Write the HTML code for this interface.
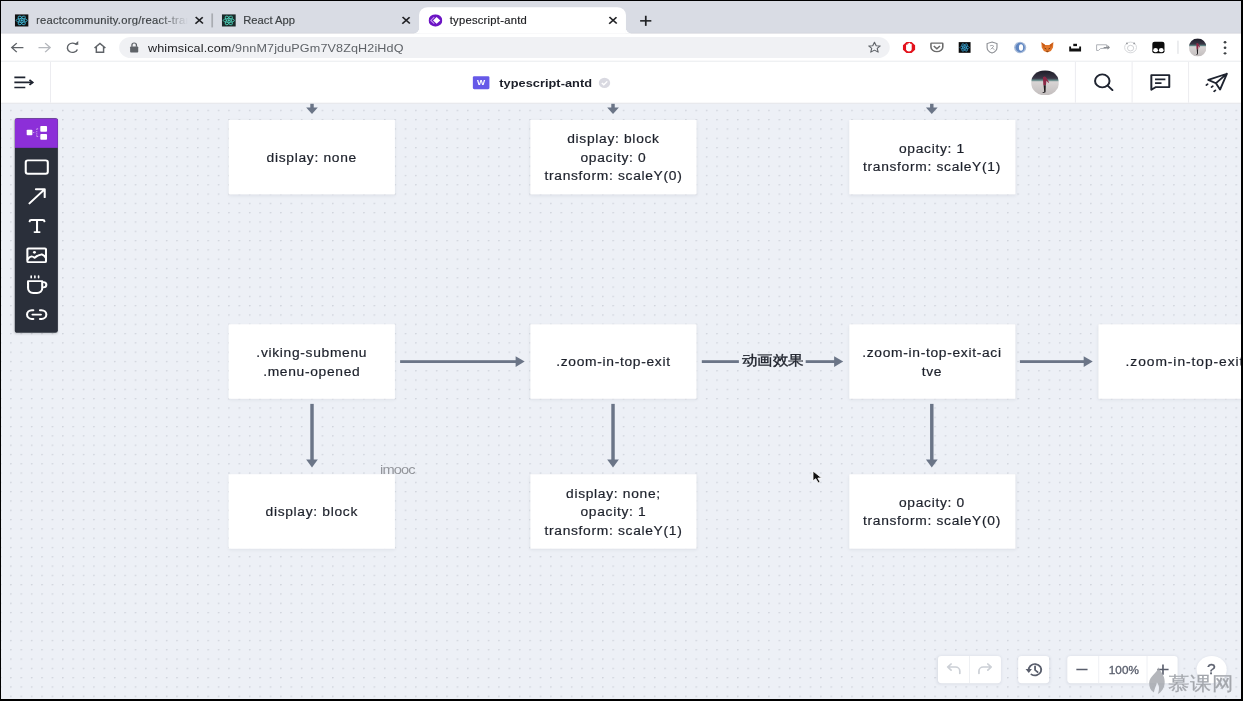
<!DOCTYPE html>
<html><head><meta charset="utf-8">
<style>
html,body{margin:0;padding:0;width:1243px;height:701px;overflow:hidden;background:#000;position:relative;}
#fr{position:absolute;left:1px;top:1px;width:1440px;height:900px;transform-origin:0 0;transform:scale(0.862,0.777);overflow:hidden;font-family:"Liberation Sans",sans-serif;background:#edf0f6;}
.abs{position:absolute;}
#tabs{z-index:5;left:0;top:0;width:1440px;height:42px;background:#d9dce4;box-shadow:inset 0 -1px 0 #d3d4da;}
#tool{z-index:5;left:0;top:42px;width:1440px;height:35px;background:#fff;border-bottom:1px solid #dadce0;}
#hdr{z-index:5;left:0;top:78px;width:1440px;height:53px;background:#fff;border-bottom:1px solid #dcdde3;}
#canvas{left:0;top:132px;width:1440px;height:768px;background-color:#edf0f6;
 background-image:radial-gradient(circle at 1px 1px,#c8ccd5 0.5px,rgba(200,204,213,0) 1.1px);
 background-size:12.05px 11.982px;background-position:10.57px 8.0px;}
.box{position:absolute;background:#fff;width:193px;height:96px;display:flex;align-items:center;justify-content:center;text-align:center;
 font-size:16px;line-height:24px;letter-spacing:0.8px;padding-top:2px;box-sizing:border-box;color:#1d212b;-webkit-text-stroke:0.25px #1d212b;box-shadow:0 2px 4px rgba(30,40,70,0.07),0 0 1px rgba(30,40,70,0.06);}
.lbl{font-size:18px;line-height:24px;color:#1d212b;-webkit-text-stroke:0.45px #1d212b;white-space:nowrap;}
.x{width:9px;height:9px;}
.x:before,.x:after{content:"";position:absolute;left:3.8px;top:-1.3px;width:1.5px;height:11.6px;background:#202124;transform:rotate(45deg);}
.x:after{transform:rotate(-45deg);}
.plus{width:13px;height:13px;}
.plus:before,.plus:after{content:"";position:absolute;left:5.6px;top:0;width:1.9px;height:13px;background:#202124;}
.plus:after{transform:rotate(90deg);}
.avatar{border-radius:50%;background:radial-gradient(ellipse at 50% 80%,#e8e8ea 0%,#cfd0d3 45%,#8d9299 70%,#2c3238 100%);overflow:hidden;}
.avatar:after{content:"";position:absolute;left:44%;top:22%;width:12%;height:62%;background:#7a1f35;border-radius:40% 40% 10% 10%;}
.ctl{background:#fff;border-radius:4px;box-shadow:0 1px 4px rgba(30,40,70,0.10);}
.tab-title{position:absolute;top:16.5px;font-size:13px;letter-spacing:0.3px;-webkit-text-stroke:0.2px currentColor;color:#3c4043;white-space:nowrap;}
</style></head>
<body>
<div id="fr">
  <div id="canvas" class="abs"></div>
  <div id="tabs" class="abs">
    <!-- tab 1 -->
    <div class="abs fav-react" style="left:16px;top:16.5px;"><svg width="16" height="16" viewBox="0 0 16 16"><rect width="16" height="16" fill="#111"/><g fill="none" stroke="#3fb8d6" stroke-width="1"><ellipse cx="8" cy="8" rx="6.5" ry="2.5"/><ellipse cx="8" cy="8" rx="6.5" ry="2.5" transform="rotate(60 8 8)"/><ellipse cx="8" cy="8" rx="6.5" ry="2.5" transform="rotate(-60 8 8)"/></g><circle cx="8" cy="8" r="1.4" fill="#3fb8d6"/></svg></div>
    <div class="tab-title" style="left:40.5px;width:176px;overflow:hidden;-webkit-mask-image:linear-gradient(90deg,#000 80%,transparent 100%);">reactcommunity.org/react-transition-group</div>
    <div class="abs x" style="left:225px;top:20.5px;"></div>
    <div class="abs" style="left:244.3px;top:16px;width:1.3px;height:18px;background:#a9acb2;"></div>
    <!-- tab 2 -->
    <div class="abs" style="left:256px;top:16.5px;"><svg width="16.5" height="16" viewBox="0 0 16 16"><rect width="16" height="16" fill="#1a2a2a"/><g fill="none" stroke="#4fd1b9" stroke-width="1"><ellipse cx="8" cy="8" rx="6.5" ry="2.5"/><ellipse cx="8" cy="8" rx="6.5" ry="2.5" transform="rotate(60 8 8)"/><ellipse cx="8" cy="8" rx="6.5" ry="2.5" transform="rotate(-60 8 8)"/></g><circle cx="8" cy="8" r="1.4" fill="#4fd1b9"/></svg></div>
    <div class="tab-title" style="left:281px;letter-spacing:0.02px;">React App</div>
    <div class="abs x" style="left:465px;top:20.5px;"></div>
    <!-- active tab -->
    <div class="abs" style="left:484.5px;top:8px;width:240.5px;height:34px;background:#fff;border-radius:10px 10px 0 0;"></div>
    <div class="abs" style="left:476.5px;top:34px;width:8px;height:8px;background:radial-gradient(circle at 0 0,transparent 8px,#fff 8.5px);"></div>
    <div class="abs" style="left:725px;top:34px;width:8px;height:8px;background:radial-gradient(circle at 100% 0,transparent 8px,#fff 8.5px);"></div>
    <div class="abs" style="left:496px;top:17px;"><svg width="16" height="16" viewBox="0 0 16 16"><circle cx="8" cy="8" r="8" fill="#6c14c4"/><path d="M9.3 3.6 L13.6 8 L9.3 12.4 L5.2 8 Z" fill="#fff"/><path d="M6.6 3.8 L2.6 8 L6.6 12.2" fill="none" stroke="#c79af0" stroke-width="1.2"/></svg></div>
    <div class="tab-title" style="left:520.5px;color:#202124;">typescript-antd</div>
    <div class="abs x" style="left:705px;top:20.5px;"></div>
    <div class="abs plus" style="left:741.5px;top:18.5px;"></div>
  </div>
  <div id="tool" class="abs">
    <svg class="abs" style="left:0;top:0" width="1440" height="36" viewBox="0 42 1440 36">
      <g fill="none" stroke="#5f6368" stroke-width="1.7">
        <path d="M12.5 60 H26 M18.3 54.2 L12.5 60 L18.3 65.8"/>
      </g>
      <g fill="none" stroke="#b5b8bd" stroke-width="1.7"><path d="M43.5 60 H57 M51.2 54.2 L57 60 L51.2 65.8"/></g>
      <g fill="none" stroke="#5f6368" stroke-width="1.7">
        <path d="M87.8 56.6 A6 6 0 1 0 88.6 62.3"/>
        <path d="M108.5 60.5 L114.8 54.6 L121.1 60.5 M110.6 58.8 V66 H119 V58.8"/>
      </g>
      <path d="M85.6 55.2 L89.6 51.6 L89.6 56.6 Z" fill="#5f6368"/>
      <rect x="137" y="46.3" width="894" height="27.2" rx="13.6" fill="#f0f1f4"/>
      <rect x="149.8" y="58.6" width="9.4" height="7.6" rx="1" fill="#5f6368"/>
      <path d="M151.9 58.8 V56.6 A2.6 2.6 0 0 1 157.1 56.6 V58.8" fill="none" stroke="#5f6368" stroke-width="1.5"/>
      <path d="M1013.3 53 L1015.3 57.5 L1020 57.9 L1016.5 61 L1017.6 65.8 L1013.3 63.3 L1009 65.8 L1010.1 61 L1006.6 57.9 L1011.3 57.5 Z" fill="none" stroke="#5f6368" stroke-width="1.3" stroke-linejoin="round"/>
    </svg>
    <div class="abs" style="left:170.5px;top:11px;font-size:14.6px;color:#202124;white-space:nowrap;letter-spacing:0.15px">whimsical.com<span style="color:#5f6368">/9nnM7jduPGm7V8ZqH2iHdQ</span></div>
    <!-- extensions -->
    <svg class="abs" style="left:0;top:0" width="1440" height="36" viewBox="0 42 1440 36">
      <g transform="translate(1053.4 59.8) scale(0.82)"><path d="M-3.6 -8.6 H3.6 L8.6 -3.6 V3.6 L3.6 8.6 H-3.6 L-8.6 3.6 V-3.6 Z" fill="#e3111b"/><path d="M-4.2 1 V-3.8 A1 1 0 0 1 -2.2 -3.8 V-0.5 V-5.8 A1 1 0 0 1 -0.2 -5.8 V-0.5 V-6.3 A1 1 0 0 1 1.8 -6.3 V-0.5 V-5 A1 1 0 0 1 3.8 -5 V2.2 Q3.8 6.3 -0.2 6.3 Q-3 6.3 -4.2 3.5 Z" fill="#fff"/></g>
      <g transform="translate(1085.7 59.8) scale(0.86)"><path d="M-7.2 -6.5 H7.2 Q8 -6.5 8 -5.7 V-0.8 A8 7 0 0 1 -8 -0.8 V-5.7 Q-8 -6.5 -7.2 -6.5 Z" fill="none" stroke="#6b6b6b" stroke-width="2.1"/><path d="M-4.2 -2.2 L0 1.8 L4.2 -2.2" fill="none" stroke="#6b6b6b" stroke-width="2.1"/></g>
      <g transform="translate(1117.9 59.8) scale(0.86)"><rect x="-8" y="-8" width="16" height="16" fill="#0b0b0b"/><g fill="none" stroke="#3aa7d8" stroke-width="1"><ellipse rx="6.3" ry="2.4"/><ellipse rx="6.3" ry="2.4" transform="rotate(60)"/><ellipse rx="6.3" ry="2.4" transform="rotate(-60)"/></g><circle r="1.3" fill="#3aa7d8"/></g>
      <g transform="translate(1149.7 59.8) scale(0.82)"><path d="M0 -8.5 L7 -6 V0 Q7 6 0 8.8 Q-7 6 -7 0 V-6 Z" fill="#fff" stroke="#8c8f94" stroke-width="1.6"/><path d="M-3 -2.5 Q0.5 -4.5 2.5 -2 L-2 3 M0 0.5 L3.5 3.5" fill="none" stroke="#8c8f94" stroke-width="1.1"/></g>
      <g transform="translate(1182.3 59.8) scale(0.86)"><ellipse rx="8.2" ry="8.6" fill="#a9bcd9"/><ellipse rx="6.2" ry="7" fill="#5f86c2"/><ellipse cx="1.2" cy="0" rx="2.8" ry="4.8" fill="#fff"/></g>
      <g transform="translate(1213.9 59.8) scale(0.82)"><path d="M-8.5 -8 L-3 -4 H3 L8.5 -8 L8 0 L5 5.5 L0 8 L-5 5.5 L-8 0 Z" fill="#e2762a"/><path d="M-8.5 -8 L-3 -4 L-5 1 Z M8.5 -8 L3 -4 L5 1 Z" fill="#c65a17"/><path d="M-4 1 L-1.5 2.5 M4 1 L1.5 2.5 M-1.5 6 H1.5" stroke="#5a2f0e" stroke-width="1.2" fill="none"/></g>
      <g transform="translate(1246.1 59.8) scale(0.86)"><rect x="-2.5" y="-5.5" width="5" height="3.5" fill="#111"/><path d="M-8 -1.5 H-5.5 V1.5 H5.5 V-1.5 H8 V6 H-8 Z" fill="#111"/></g>
      <g transform="translate(1278.3 59.8) scale(0.86)"><path d="M-8.5 -4 H5 V1.5 H-3 L-6 4.5 H-8.5 Z" fill="none" stroke="#a9acb1" stroke-width="1.3"/><path d="M1 0 H8.5 M6 -2.6 L8.5 0 L6 2.6" fill="none" stroke="#8b8e93" stroke-width="1.6"/></g>
      <g transform="translate(1310.4 59.8) scale(0.86)"><circle r="8" fill="none" stroke="#d2d4d8" stroke-width="1.3"/><circle cy="1" r="4.2" fill="none" stroke="#c6c8cc" stroke-width="1.2"/><circle cx="-4.9" cy="-6" r="1.3" fill="#9a9ca0"/><circle cx="4.9" cy="-6" r="1.3" fill="#9a9ca0"/></g>
      <g transform="translate(1342.7 59.8) scale(0.86)"><rect x="-8.2" y="-8.5" width="16.4" height="17" rx="3" fill="#0c0c0c"/><circle cx="-3.8" cy="4" r="3.2" fill="#fff"/><circle cx="3.8" cy="4" r="3.2" fill="#fff"/></g>
      <rect x="1364.8" y="51" width="1.2" height="17" fill="#dadce0"/>
      <g fill="#3c4043"><circle cx="1420" cy="53" r="1.6"/><circle cx="1420" cy="60.2" r="1.6"/><circle cx="1420" cy="67.4" r="1.6"/></g>
    </svg>
    <svg class="abs" style="left:1377.5px;top:6px;" width="20.5" height="23.5" preserveAspectRatio="none" viewBox="0 0 32 32"><defs><clipPath id="ca1"><circle cx="16" cy="16" r="16"/></clipPath><linearGradient id="ga1" x1="0" y1="0" x2="0" y2="1"><stop offset="0" stop-color="#1c1b26"/><stop offset="0.32" stop-color="#3a3746"/><stop offset="0.4" stop-color="#5e8584"/><stop offset="0.46" stop-color="#d8d4d4"/><stop offset="1" stop-color="#c2bdbd"/></linearGradient></defs><g clip-path="url(#ca1)"><rect width="32" height="32" fill="url(#ga1)"/><path d="M13.5 9 Q15.5 7 17.5 9.5 L20.5 15.5 L19.5 16 L17.5 13 L17 19 L14 19 Z" fill="#8d2846"/><path d="M14.3 19 L15 27.5 L12.5 28.5 L14 29 L16.5 28 L16.8 19 Z" fill="#1c1a1c"/></g></svg>
  </div>
  <div id="hdr" class="abs">
    <svg class="abs" style="left:0;top:0" width="1440" height="54" viewBox="0 78 1440 54">
      <g stroke="#1f2430" stroke-width="2.1" fill="none">
        <path d="M15.5 98.3 H28.2 M15.5 104.8 H36.5 M15.5 111.3 H28.2"/>
        <path d="M33 101.6 L36.8 104.8 L33 108"/>
      </g>
      <rect x="56.8" y="78" width="1.2" height="53" fill="#ececf0"/>
      <rect x="547.4" y="97" width="19.2" height="16.5" rx="1.5" fill="#6659e8"/>
      <text x="556.9" y="107.9" text-anchor="middle" font-family="Liberation Sans" font-weight="bold" font-size="10" fill="#fff">W</text>
      <circle cx="700.1" cy="105.5" r="6.6" fill="#d9d9e1"/>
      <path d="M697 105.6 L699.3 107.8 L703.3 103.4" fill="none" stroke="#fff" stroke-width="1.6"/>
      <rect x="1245.8" y="78" width="1.2" height="53" fill="#ececf0"/>
      <rect x="1311.6" y="78" width="1.2" height="53" fill="#ececf0"/>
      <rect x="1377.1" y="78" width="1.2" height="53" fill="#ececf0"/>
      <g stroke="#1f2430" stroke-width="2.3" fill="none" stroke-linecap="round">
        <circle cx="1277.6" cy="102.8" r="8.4"/>
        <path d="M1283.8 108.8 L1289.4 114.6"/>
      </g>
      <g stroke="#1f2430" stroke-width="2.3" fill="none" stroke-linejoin="round">
        <path d="M1334.5 95.5 H1355.3 V110.8 H1339.8 L1334.5 114.3 Z"/>
        <path d="M1338.8 101 H1350.8 M1338.8 105.7 H1346.3"/>
      </g>
      <g stroke="#1f2430" stroke-width="2.2" fill="none" stroke-linejoin="round" stroke-linecap="round">
        <path d="M1422.2 93.6 L1400.5 101.5 L1409.5 105.8 L1414.2 114 Z M1409.5 105.8 L1422.2 93.6"/>
        <path d="M1398.3 108.2 L1399.8 107 M1404.3 110.8 L1405.8 109.6 M1407.3 116.2 L1408.8 115" stroke-width="2.1"/>
      </g>
    </svg>
    <div class="abs" style="left:578px;top:20.3px;font-size:14.8px;font-weight:bold;color:#1c1f29;letter-spacing:0.05px;white-space:nowrap;">typescript-antd</div>
    <svg class="abs" style="left:1194.8px;top:10.5px;" width="32.5" height="32.5" viewBox="0 0 32 32"><defs><clipPath id="ca2"><circle cx="16" cy="16" r="16"/></clipPath><linearGradient id="ga2" x1="0" y1="0" x2="0" y2="1"><stop offset="0" stop-color="#1c1b26"/><stop offset="0.32" stop-color="#3a3746"/><stop offset="0.4" stop-color="#5e8584"/><stop offset="0.46" stop-color="#d8d4d4"/><stop offset="1" stop-color="#c2bdbd"/></linearGradient></defs><g clip-path="url(#ca2)"><rect width="32" height="32" fill="url(#ga2)"/><path d="M13.5 9 Q15.5 7 17.5 9.5 L20.5 15.5 L19.5 16 L17.5 13 L17 19 L14 19 Z" fill="#8d2846"/><path d="M14.3 19 L15 27.5 L12.5 28.5 L14 29 L16.5 28 L16.8 19 Z" fill="#1c1a1c"/></g></svg>
  </div>

  
  <!-- arrows -->
  <svg class="abs" style="left:0;top:0" width="1440" height="900" viewBox="0 0 1440 900">
    <g fill="#6b7587" stroke="none">
      <rect x="358.8" y="120" width="4" height="19"/><path d="M354 137 L367.5 137 L360.8 145.5 Z"/>
      <rect x="708" y="120" width="4" height="19"/><path d="M703.2 137 L716.8 137 L710 145.5 Z"/>
      <rect x="1077.8" y="120" width="4" height="19"/><path d="M1073 137 L1086.6 137 L1079.8 145.5 Z"/>

      <rect x="463" y="462.3" width="136" height="3.6"/><path d="M597 457.3 L607.5 464.1 L597 470.9 Z"/>
      <rect x="813" y="462.3" width="43" height="3.6"/>
      <rect x="933.5" y="462.3" width="35" height="3.6"/><path d="M966.5 457.3 L977 464.1 L966.5 470.9 Z"/>
      <rect x="1182" y="462.3" width="76" height="3.6"/><path d="M1256 457.3 L1266.5 464.1 L1256 470.9 Z"/>

      <rect x="358.8" y="518.5" width="4" height="73"/><path d="M354 590 L367.5 590 L360.8 600.5 Z"/>
      <rect x="708" y="518.5" width="4" height="73"/><path d="M703.2 590 L716.8 590 L710 600.5 Z"/>
      <rect x="1077.8" y="518.5" width="4" height="73"/><path d="M1073 590 L1086.6 590 L1079.8 600.5 Z"/>
    </g>
  </svg>
  <!-- left toolbar -->
  <div class="abs" style="left:15.6px;top:150.5px;width:50.4px;height:276px;background:#2a2f3a;border-radius:3px;box-shadow:0 1px 3px rgba(0,0,0,0.15);overflow:hidden;">
    <div class="abs" style="left:0;top:0;width:50.4px;height:38.3px;background:#8c2fd8;"></div>
  </div>
  <svg class="abs" style="left:0;top:0;z-index:2" width="100" height="450" viewBox="0 0 100 450">
    <g fill="#fff">
      <rect x="29.8" y="165.7" width="6.6" height="7" rx="1"/>
      <rect x="45.6" y="160.8" width="7.8" height="7.4" rx="1"/>
      <rect x="45.6" y="171.3" width="7.8" height="7.4" rx="1"/>
    </g>
    <path d="M37 169.2 H40 M41.5 164.5 V174.5 M41.5 164.5 H44.5 M41.5 174.5 H44.5" stroke="#c79ae8" stroke-width="1.2" fill="none" stroke-dasharray="1.6 1.2"/>
    <g fill="none" stroke="#fff" stroke-width="2.4" stroke-linejoin="round" stroke-linecap="round">
      <rect x="28.7" y="205.2" width="25.6" height="17.2" rx="2.5"/>
      <path d="M33 260.5 L50.5 242.5 M40.5 242.3 H50.7 V252.5"/>
      <path d="M33.2 283.6 Q33.4 281.8 35 281.8 H48.6 Q50.2 281.8 50.4 283.6 M41.8 281.8 V297.4 M39 297.4 H44.7"/>
      <rect x="30.6" y="318.6" width="21.6" height="17.4" rx="1.2"/>
      <path d="M31 332.3 Q33 329 35.4 328.6 Q37 328.6 39 330.6 Q42 327 47.3 326 Q50.5 327.5 52.2 331"/>
      <path d="M31.4 360.6 H47.8 V369.5 A6 6 0 0 1 41.8 375.8 H37.4 A6 6 0 0 1 31.4 369.5 Z M47.8 361.8 H49.2 A3.4 3.4 0 0 1 49.2 368.6 H47.8"/>
      <path d="M35 353.8 V356.3 M39.3 353.8 V356.3 M43.6 353.8 V356.3" stroke-width="1.9"/>
      <path d="M37.5 398 H35.8 A5.6 5.6 0 0 0 35.8 409.2 H37.5 M45.2 398 H47 A5.6 5.6 0 0 1 47 409.2 H45.2 M36.5 403.6 H46.3"/>
    </g>
    <circle cx="38.8" cy="323.5" r="1.7" fill="#fff"/>
  </svg>
  <!-- bottom controls -->
  <div class="abs ctl" style="left:1086.8px;top:843px;width:73.2px;height:35px;"></div>
  <div class="abs" style="left:1122.6px;top:843px;width:1px;height:35px;background:#eceef2;"></div>
  <div class="abs ctl" style="left:1180px;top:843px;width:36px;height:35px;"></div>
  <div class="abs ctl" style="left:1236.5px;top:843px;width:128.7px;height:35px;"></div>
  <div class="abs" style="left:1273px;top:843px;width:1px;height:35px;background:#eceef2;"></div>
  <div class="abs" style="left:1328.7px;top:843px;width:1px;height:35px;background:#eceef2;"></div>
  <div class="abs ctl" style="left:1386.5px;top:843px;width:35.5px;height:35px;border-radius:50%;"></div>
  <div class="abs" style="left:1285px;top:853.5px;font-size:13.6px;color:#5a5f6d;-webkit-text-stroke:0.4px #5a5f6d;letter-spacing:0.1px;">100%</div>
  <svg class="abs" style="left:0;top:0;z-index:2" width="1440" height="900" viewBox="0 0 1440 900">
    <g fill="none" stroke="#ccd0d6" stroke-width="2" stroke-linecap="round" stroke-linejoin="round">
      <path d="M1112.3 865.5 V862.2 A5 5 0 0 0 1107.3 857.2 H1098.2 M1102.2 853.2 L1098.2 857.2 L1102.2 861.2"/>
      <path d="M1134.5 865.5 V862.2 A5 5 0 0 1 1139.5 857.2 H1148.8 M1144.8 853.2 L1148.8 857.2 L1144.8 861.2"/>
    </g>
    <g fill="none" stroke="#595e6c" stroke-width="2.1" stroke-linecap="round">
      <path d="M1192.3 861.8 A7.3 7.3 0 1 1 1195.3 866.6"/>
      <path d="M1199.6 856.2 V861 L1202.6 863.8"/>
    </g>
    <path d="M1188.6 859.8 L1196 859.8 L1192.3 864.8 Z" fill="#595e6c"/>
    <g stroke="#595e6c" stroke-width="1.9" fill="none">
      <path d="M1247.5 860.5 H1260.5"/>
      <path d="M1341.5 860.5 H1354.5 M1348 854 V867"/>
    </g>
    <text x="1404" y="866.5" font-family="Liberation Sans" font-size="18" fill="#595e6c" stroke="#595e6c" stroke-width="0.4" text-anchor="middle">?</text>
  </svg>
  <!-- watermark -->
  <svg class="abs" style="left:1330.5px;top:857px;z-index:3;opacity:0.8" width="20" height="36" viewBox="0 0 20 36">
    <path d="M12 0.5 C13.5 6 19 10 19 19 C19 27 15.5 32 11 35 C13 29 13 24 10 20 C9 25 7 28 6.5 33 C2.5 30 0.8 26 1 20 C1.5 12 10 8 12 0.5 Z" fill="#a2a5ab"/>
  </svg>
  <div class="abs" style="left:1353.5px;top:861.5px;z-index:3;font-size:24.3px;line-height:34px;color:#a3a6ac;-webkit-text-stroke:0.3px #a3a6ac;text-shadow:0 0 1px rgba(255,255,255,0.6);transform:scaleX(1.02);transform-origin:0 0;letter-spacing:0.8px;white-space:nowrap;">慕课网</div>
  <!-- cursor -->
  <svg class="abs" style="left:941.2px;top:604px;z-index:3" width="13" height="18" viewBox="0 0 13 18">
    <path d="M1 1 L1 13.5 L4.2 10.8 L7 16.2 L9.2 15 L6.6 10 L11 9.8 Z" fill="#111" stroke="#fff" stroke-width="1"/>
  </svg>
  <div class="abs lbl" style="left:859.5px;top:451.2px;">动画效果</div>
  <div class="abs" style="left:439.8px;top:593.8px;font-size:17px;letter-spacing:-1.05px;color:#93959b;">imooc</div>
<div class="box" style="left:264px;top:152.5px;">display: none</div>
  <div class="box" style="left:614px;top:152.5px;">display: block<br>opacity: 0<br>transform: scaleY(0)</div>
  <div class="box" style="left:983.5px;top:152.5px;">opacity: 1<br>transform: scaleY(1)</div>

  <div class="box" style="left:264px;top:416px;">.viking-submenu<br>.menu-opened</div>
  <div class="box" style="left:614px;top:416px;">.zoom-in-top-exit</div>
  <div class="box" style="left:983.5px;top:416px;">.zoom-in-top-exit-aci<br>tve</div>
  <div class="box" style="left:1272.5px;top:416px;letter-spacing:1.1px;padding-left:9px;">.zoom-in-top-exit</div>

  <div class="box" style="left:264px;top:609px;">display: block</div>
  <div class="box" style="left:614px;top:609px;">display: none;<br>opacity: 1<br>transform: scaleY(1)</div>
  <div class="box" style="left:983.5px;top:609px;">opacity: 0<br>transform: scaleY(0)</div>
</div>
<div class="abs" style="left:1241px;top:0;width:2px;height:701px;background:#000"></div>
<div class="abs" style="left:0;top:699px;width:1243px;height:2px;background:#000"></div>
</body></html>
